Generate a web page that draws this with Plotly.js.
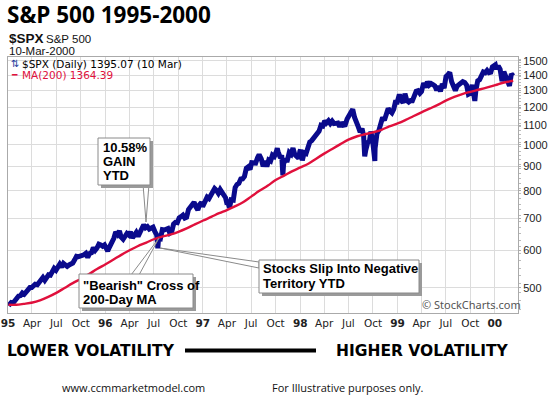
<!DOCTYPE html>
<html>
<head>
<meta charset="utf-8">
<script src="https://cdn.plot.ly/plotly-3.0.1.min.js"></script>
<style>
html,body{margin:0;padding:0;background:#fff;}
#chart{width:548px;height:398px;}
</style>
</head>
<body>
<div id="chart"></div>
<script>
// ---------- DATA ----------
const spxDates = [
"1995-01-03","1995-01-06","1995-01-13","1995-01-20","1995-01-27","1995-02-03","1995-02-10","1995-02-17","1995-02-24",
"1995-03-03","1995-03-10","1995-03-17","1995-03-24","1995-03-31","1995-04-07","1995-04-13","1995-04-21","1995-04-28",
"1995-05-05","1995-05-12","1995-05-19","1995-05-26","1995-06-02","1995-06-09","1995-06-16","1995-06-23","1995-06-30",
"1995-07-07","1995-07-14","1995-07-21","1995-07-28","1995-08-04","1995-08-11","1995-08-18","1995-08-25","1995-09-01",
"1995-09-08","1995-09-15","1995-09-22","1995-09-29","1995-10-06","1995-10-13","1995-10-20","1995-10-27","1995-11-03",
"1995-11-10","1995-11-17","1995-11-24","1995-12-01","1995-12-08","1995-12-15","1995-12-22","1995-12-29",
"1996-01-05","1996-01-10","1996-01-12","1996-01-19","1996-01-26","1996-02-02","1996-02-09","1996-02-16","1996-02-23",
"1996-02-29","1996-03-08","1996-03-15","1996-03-22","1996-03-29","1996-04-04","1996-04-12","1996-04-19","1996-04-26",
"1996-05-03","1996-05-10","1996-05-17","1996-05-24","1996-05-31","1996-06-07","1996-06-14","1996-06-21","1996-06-28",
"1996-07-05","1996-07-12","1996-07-16","1996-07-19","1996-07-26","1996-08-02","1996-08-09","1996-08-16","1996-08-23",
"1996-08-30","1996-09-06","1996-09-13","1996-09-20","1996-09-27","1996-10-04","1996-10-11","1996-10-18","1996-10-25",
"1996-11-01","1996-11-08","1996-11-15","1996-11-22","1996-11-29","1996-12-06","1996-12-13","1996-12-20","1996-12-27",
"1996-12-31",
"1997-01-03","1997-01-10","1997-01-17","1997-01-24","1997-01-31","1997-02-07","1997-02-14","1997-02-21","1997-02-28",
"1997-03-07","1997-03-14","1997-03-21","1997-03-27","1997-03-31","1997-04-04","1997-04-11","1997-04-17","1997-04-25",
"1997-05-02","1997-05-09","1997-05-16","1997-05-23","1997-05-30","1997-06-06","1997-06-13","1997-06-20","1997-06-27",
"1997-07-03","1997-07-11","1997-07-18","1997-07-25","1997-07-31","1997-08-08","1997-08-15","1997-08-22","1997-08-29",
"1997-09-05","1997-09-12","1997-09-19","1997-09-26","1997-10-03","1997-10-07","1997-10-10","1997-10-17","1997-10-24",
"1997-10-28","1997-10-31","1997-11-07","1997-11-14","1997-11-21","1997-11-28","1997-12-05","1997-12-12","1997-12-19",
"1997-12-26","1997-12-31",
"1998-01-02","1998-01-09","1998-01-16","1998-01-23","1998-01-30","1998-02-06","1998-02-13","1998-02-20","1998-02-27",
"1998-03-06","1998-03-13","1998-03-20","1998-03-27","1998-04-03","1998-04-09","1998-04-17","1998-04-24","1998-05-01",
"1998-05-08","1998-05-15","1998-05-22","1998-05-29","1998-06-05","1998-06-12","1998-06-19","1998-06-26","1998-07-02",
"1998-07-10","1998-07-17","1998-07-24","1998-07-31","1998-08-07","1998-08-14","1998-08-21","1998-08-27","1998-08-31",
"1998-09-04","1998-09-11","1998-09-18","1998-09-23","1998-09-30","1998-10-08","1998-10-09","1998-10-16","1998-10-23",
"1998-10-30","1998-11-06","1998-11-13","1998-11-20","1998-11-27","1998-12-04","1998-12-11","1998-12-18","1998-12-24",
"1998-12-31",
"1999-01-08","1999-01-15","1999-01-22","1999-01-29","1999-02-05","1999-02-12","1999-02-19","1999-02-26","1999-03-05",
"1999-03-12","1999-03-19","1999-03-26","1999-04-01","1999-04-09","1999-04-16","1999-04-23","1999-04-30","1999-05-07",
"1999-05-14","1999-05-21","1999-05-28","1999-06-04","1999-06-11","1999-06-18","1999-06-25","1999-07-02","1999-07-09",
"1999-07-16","1999-07-23","1999-07-30","1999-08-06","1999-08-13","1999-08-20","1999-08-27","1999-09-03","1999-09-10",
"1999-09-17","1999-09-24","1999-10-01","1999-10-08","1999-10-18","1999-10-22","1999-10-29","1999-11-05","1999-11-12",
"1999-11-19","1999-11-26","1999-12-03","1999-12-10","1999-12-17","1999-12-23","1999-12-31",
"2000-01-03","2000-01-07","2000-01-14","2000-01-21","2000-01-28","2000-02-04","2000-02-11","2000-02-18","2000-02-25",
"2000-03-03","2000-03-10"
];
const spxValues = [
459,461,466,465,470,479,481,482,488,
485,490,495,501,501,506,509,508,515,
520,526,519,524,533,532,540,550,545,
556,561,553,563,559,555,559,560,564,
573,583,582,584,583,587,591,580,591,
593,608,600,607,618,616,612,616,
603,598,602,611,622,636,656,648,659,
640,633,641,651,646,656,637,645,654,
642,652,669,679,669,673,665,667,671,
657,646,606,639,636,663,662,665,667,
652,656,681,687,686,702,706,711,701,
704,731,738,749,757,740,729,749,757,
741,
748,760,776,771,786,790,809,802,791,
805,793,784,774,757,758,737,766,765,
813,825,830,847,848,858,893,899,887,
917,917,915,939,954,934,901,924,900,
929,924,951,945,965,983,967,944,942,
862,915,928,928,963,955,984,953,947,
937,970,
975,927,962,958,995,1013,1020,1034,1049,
1056,1069,1099,1095,1123,1111,1123,1108,1121,
1108,1109,1111,1091,1114,1099,1101,1133,1146,
1164,1187,1141,1121,1090,1063,1081,1043,945,
974,1009,1020,1066,1017,925,984,1056,1071,
1099,1141,1126,1164,1192,1177,1167,1188,1229,
1229,
1275,1243,1225,1280,1239,1230,1239,1238,1276,
1295,1299,1283,1294,1348,1319,1357,1335,1345,
1338,1330,1302,1328,1294,1343,1315,1391,1403,
1419,1357,1329,1300,1328,1337,1348,1357,1352,
1335,1277,1283,1336,1236,1302,1363,1370,1396,
1422,1417,1433,1417,1421,1458,1469,
1472,1442,1465,1441,1360,1424,1387,1346,1330,
1409,1395
];
const maDates = [
"1995-01-03","1995-02-01","1995-03-01","1995-04-03","1995-05-01","1995-06-01","1995-07-03","1995-08-01","1995-09-01",
"1995-10-02","1995-11-01","1995-12-01","1996-01-02","1996-02-01","1996-03-01","1996-04-01","1996-05-01","1996-06-03",
"1996-07-01","1996-08-01","1996-09-03","1996-10-01","1996-11-01","1996-12-02","1997-01-02","1997-02-03","1997-03-03",
"1997-04-01","1997-05-01","1997-06-02","1997-07-01","1997-08-01","1997-09-02","1997-10-01","1997-11-03","1997-12-01",
"1998-01-02","1998-02-02","1998-03-02","1998-04-01","1998-05-01","1998-06-01","1998-07-01","1998-08-03","1998-09-01",
"1998-10-01","1998-11-02","1998-12-01","1999-01-04","1999-02-01","1999-03-01","1999-04-01","1999-05-03","1999-06-01",
"1999-07-01","1999-08-02","1999-09-01","1999-10-01","1999-11-01","1999-12-01","2000-01-03","2000-02-01","2000-03-01",
"2000-03-10"
];
const maValues = [
461,461,463,466,471,479,489,500,512,
523,535,548,561,574,587,600,612,623,
633,641,648,656,667,680,693,706,718,
729,742,758,778,800,821,843,862,879,
896,913,935,958,980,1003,1025,1042,1052,
1062,1075,1093,1110,1128,1148,1170,1192,1213,
1238,1260,1278,1292,1305,1318,1334,1350,1360,
1364.39
];
const yTickVals = [500,600,700,800,900,1000,1100,1200,1300,1400,1500];
const xTickVals = [
"1995-01-01","1995-04-01","1995-07-01","1995-10-01",
"1996-01-01","1996-04-01","1996-07-01","1996-10-01",
"1997-01-01","1997-04-01","1997-07-01","1997-10-01",
"1998-01-01","1998-04-01","1998-07-01","1998-10-01",
"1999-01-01","1999-04-01","1999-07-01","1999-10-01",
"2000-01-01"
];
const xTickText = [
"<b>95</b>","Apr","Jul","Oct","<b>96</b>","Apr","Jul","Oct","<b>97</b>","Apr","Jul","Oct",
"<b>98</b>","Apr","Jul","Oct","<b>99</b>","Apr","Jul","Oct","<b>00</b>"
];

// ---------- LAYOUT HELPERS (pixel -> paper) ----------
const W = 548, H = 398;
const PL = 8, PR = 518, PT = 57, PB = 313;
const px = v => (v - PL) / (PR - PL);
const py = v => (PB - v) / (PB - PT);

const minorVals = [];
for (let v = 450; v <= 1520; v += 20) minorVals.push(v);

const traces = [
  {x: spxDates, y: spxValues, type: 'scatter', mode: 'lines',
   line: {color: '#0a0a8c', width: 5}, hoverinfo: 'skip'},
  {x: maDates, y: maValues, type: 'scatter', mode: 'lines',
   line: {color: '#e0103c', width: 2.4, shape: 'spline'}, hoverinfo: 'skip'}
];

function box(x0, y0, x1, y1) {
  return [
    {type: 'rect', xref: 'paper', yref: 'paper', x0: px(x0 + 3), x1: px(x1 + 3), y0: py(y1 + 3), y1: py(y0 + 3),
     fillcolor: '#9a9a9a', line: {width: 0}, layer: 'above'},
    {type: 'rect', xref: 'paper', yref: 'paper', x0: px(x0), x1: px(x1), y0: py(y1), y1: py(y0),
     fillcolor: '#ffffff', line: {color: '#8a8a8a', width: 1}, layer: 'above'}
  ];
}
function wedge(ax, ay, bx, by, tx, ty) {
  return {type: 'path', xref: 'paper', yref: 'paper',
    path: `M ${px(ax)} ${py(ay)} L ${px(tx)} ${py(ty)} L ${px(bx)} ${py(by)} Z`,
    fillcolor: '#ffffff', line: {color: '#8a8a8a', width: 1}, layer: 'above'};
}
function txt(x, y, t, o) {
  return Object.assign({xref: 'paper', yref: 'paper', x: px(x), y: py(y), text: t, showarrow: false,
    xanchor: 'left', yanchor: 'middle', align: 'left'}, o || {});
}
const boldF = {family: 'Liberation Sans, Arial, sans-serif', size: 13, color: '#000', weight: 700};

const shapes = [
  wedge(143, 184, 149, 184, 146, 222),
  ...box(98, 138, 150, 185),
  wedge(131, 275, 139, 275, 159, 238),
  ...box(79, 274, 193, 308),
  wedge(259, 262, 259, 268, 160, 248),
  ...box(259, 260, 419, 293),
  // volatility bar
  {type: 'line', xref: 'paper', yref: 'paper', x0: px(185), x1: px(316), y0: py(350.5), y1: py(350.5),
   line: {color: '#000', width: 4}}
];

const annotations = [
  txt(101, 147, '<b>10.58%</b>', {font: boldF}),
  txt(101, 161, '<b>GAIN</b>', {font: boldF}),
  txt(101, 175, '<b>YTD</b>', {font: boldF}),
  txt(81, 285, '<b>"Bearish" Cross of</b>', {font: boldF}),
  txt(81, 299, '<b>200-Day MA</b>', {font: boldF}),
  txt(261, 268, '<b>Stocks Slip Into Negative</b>', {font: boldF}),
  txt(261, 283, '<b>Territory YTD</b>', {font: boldF}),
  // header
  {xref: 'paper', yref: 'paper', x: px(5), y: py(14), text: '<b>S&amp;P 500 1995-2000</b>', showarrow: false,
   xanchor: 'left', yanchor: 'middle', font: {family: 'Open Sans, DejaVu Sans, sans-serif', size: 22.5, color: '#000', weight: 800}},
  txt(7, 38, '<b>$SPX</b>', {font: {family: 'Liberation Sans, Arial, sans-serif', size: 13.5, color: '#111'}}),
  txt(44, 38.5, 'S&amp;P 500', {font: {family: 'Liberation Sans, Arial, sans-serif', size: 11.5, color: '#111'}}),
  txt(7, 51, '10-Mar-2000', {font: {family: 'Liberation Sans, Arial, sans-serif', size: 11.5, color: '#111'}}),
  // legend
  txt(9, 63.5, '⇅', {font: {family: 'DejaVu Sans, sans-serif', size: 10, color: '#1a3a9c'}}),
  txt(20, 63.5, '$SPX (Daily) 1395.07 (10 Mar)', {font: {family: 'DejaVu Sans, sans-serif', size: 10.5, color: '#000'}}),
  txt(9, 74.5, '<b>━</b>', {font: {family: 'DejaVu Sans, sans-serif', size: 9, color: '#e0103c'}}),
  txt(20, 74.5, 'MA(200) 1364.39', {font: {family: 'DejaVu Sans, sans-serif', size: 10.5, color: '#e0103c'}}),
  // watermark
  txt(420, 304, '© StockCharts.com', {font: {family: 'Noto Sans, DejaVu Sans, sans-serif', size: 11, color: '#555'}}),
  // bottom
  txt(5, 350.5, '<b>LOWER VOLATILITY</b>', {font: {family: 'DejaVu Sans, sans-serif', size: 15.5, color: '#000'}}),
  txt(334, 350.5, '<b>HIGHER VOLATILITY</b>', {font: {family: 'DejaVu Sans, sans-serif', size: 15.5, color: '#000'}}),
  txt(60, 387, 'www.ccmmarketmodel.com', {font: {family: 'Open Sans, DejaVu Sans, sans-serif', size: 11, color: '#111'}}),
  txt(270, 387, 'For Illustrative purposes only.', {font: {family: 'Open Sans, DejaVu Sans, sans-serif', size: 11, color: '#111'}})
];

const layout = {
  width: W, height: H,
  margin: {l: PL, r: W - PR, t: PT, b: H - PB, pad: 0},
  paper_bgcolor: '#fff', plot_bgcolor: '#fff',
  showlegend: false,
  xaxis: {
    type: 'date', range: ['1995-01-01', '2000-03-28'],
    tickmode: 'array', tickvals: xTickVals, ticktext: xTickText,
    showgrid: true, gridcolor: '#dcdcdc', gridwidth: 1,
    showline: true, linecolor: '#aaaaaa', mirror: true, linewidth: 1,
    ticks: '', zeroline: false,
    tickfont: {family: 'DejaVu Sans, sans-serif', size: 10.5, color: '#222'}
  },
  yaxis: {
    type: 'log', side: 'right',
    range: [Math.log10(443), Math.log10(1529)],
    tickmode: 'array', tickvals: yTickVals, ticktext: yTickVals.map(String),
    showgrid: true, gridcolor: '#dcdcdc', gridwidth: 1,
    showline: true, linecolor: '#aaaaaa', mirror: true, linewidth: 1,
    ticks: 'outside', ticklen: 2, tickcolor: '#aaa',
    ticklabelstandoff: 0,
    minor: {tickmode: 'array', tickvals: minorVals, ticks: 'outside', ticklen: 2, tickcolor: '#bbb', showgrid: false},
    zeroline: false,
    tickfont: {family: 'Liberation Sans, Arial, sans-serif', size: 11, color: '#222'}
  },
  shapes: shapes,
  annotations: annotations
};

Plotly.newPlot('chart', traces, layout, {staticPlot: true, displayModeBar: false});
</script>
</body>
</html>
